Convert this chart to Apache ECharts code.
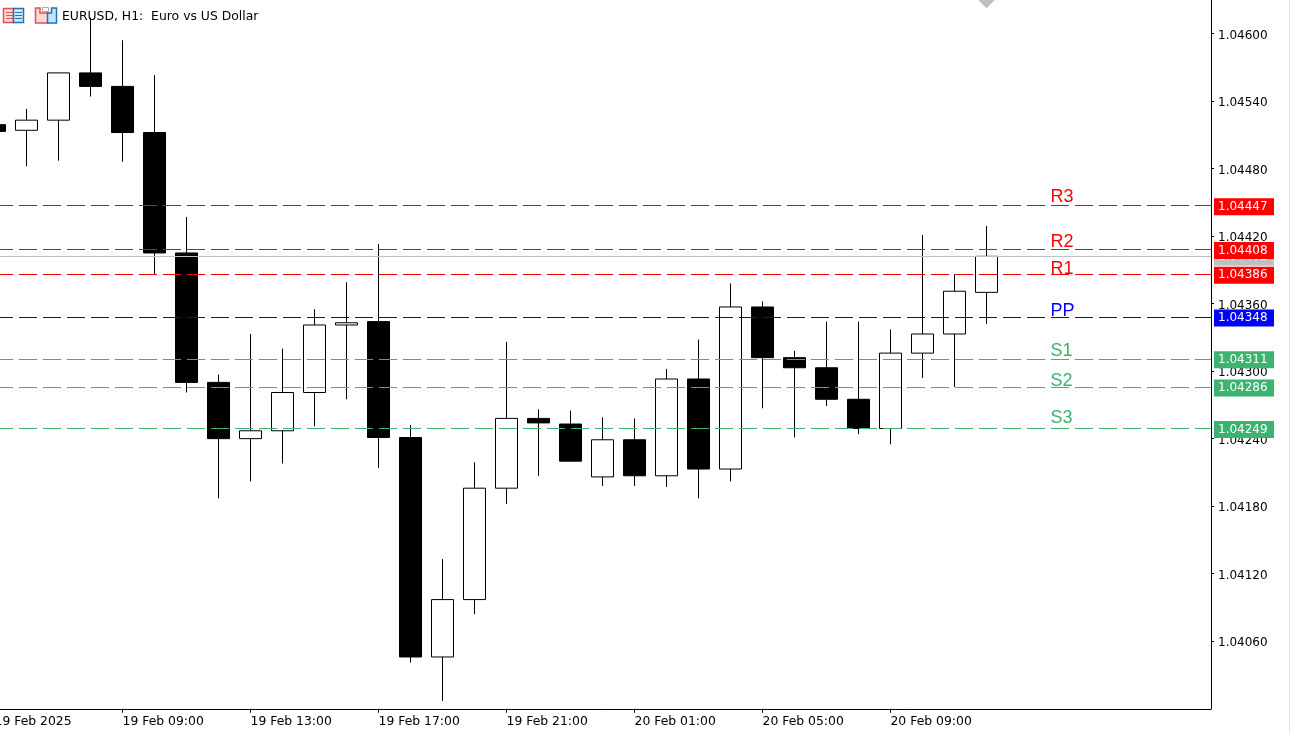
<!DOCTYPE html>
<html>
<head>
<meta charset="utf-8">
<title>EURUSD, H1</title>
<script src="https://cdn.jsdelivr.net/npm/echarts@6/dist/echarts.min.js"></script>
<style>
	html, body { margin: 0; padding: 0; background: #fff; }
	#main { width: 1290px; height: 733px; }
</style>
</head>
<body>
<div id="main"></div>
<script>
// hourly bars, 19 Feb 05:00 onwards
var opens = [1.04519, 1.04514, 1.04523, 1.04565, 1.04553, 1.04512, 1.04405, 1.04290, 1.04240, 1.04247, 1.04281, 1.04341, 1.04344, 1.04241, 1.04046, 1.04097, 1.04196, 1.04258, 1.04253, 1.04206, 1.04239, 1.04207, 1.04293, 1.04213, 1.04357, 1.04312, 1.04303, 1.04275, 1.04249, 1.04316, 1.04333, 1.04370];
var closes = [1.04513, 1.04523, 1.04565, 1.04553, 1.04512, 1.04405, 1.04290, 1.04240, 1.04247, 1.04281, 1.04341, 1.04343, 1.04241, 1.04046, 1.04097, 1.04196, 1.04258, 1.04254, 1.04220, 1.04239, 1.04207, 1.04293, 1.04213, 1.04357, 1.04312, 1.04303, 1.04275, 1.04249, 1.04316, 1.04333, 1.04371, 1.04402];
var lows = [1.04505, 1.04482, 1.04487, 1.04544, 1.04486, 1.04386, 1.04281, 1.04187, 1.04202, 1.04218, 1.04251, 1.04275, 1.04214, 1.04041, 1.04007, 1.04084, 1.04182, 1.04207, 1.04220, 1.04198, 1.04198, 1.04197, 1.04187, 1.04202, 1.04267, 1.04241, 1.04269, 1.04244, 1.04235, 1.04294, 1.04286, 1.04342];
var highs = [1.04526, 1.04533, 1.04565, 1.04614, 1.04594, 1.04563, 1.04437, 1.04297, 1.04333, 1.04320, 1.04355, 1.04379, 1.04413, 1.04252, 1.04133, 1.04219, 1.04326, 1.04266, 1.04265, 1.04259, 1.04258, 1.04302, 1.04328, 1.04378, 1.04362, 1.04318, 1.04344, 1.04344, 1.04337, 1.04421, 1.04386, 1.04429];

// axis ticks
var priceTicks = [1.04060, 1.04120, 1.04180, 1.04240, 1.04300, 1.04360, 1.04420, 1.04480, 1.04540, 1.04600];
var barTicks = [0, 4, 8, 12, 16, 20, 24, 28];
var barTickLabels = ['19 Feb 2025', '19 Feb 09:00', '19 Feb 13:00', '19 Feb 17:00', '19 Feb 21:00', '20 Feb 01:00', '20 Feb 05:00', '20 Feb 09:00'];

// pivot levels
var levelNames = ['R3', 'R2', 'R1', 'PP', 'S1', 'S2', 'S3'];
var levelValues = [1.04447, 1.04408, 1.04386, 1.04348, 1.04311, 1.04286, 1.04249];
var levelTextPrices = [1.04455, 1.04415, 1.04391, 1.04353, 1.04318, 1.04291, 1.04258];
var levelColors = ['#ff0000', '#ff0000', '#ff0000', '#0000ff', '#3cb371', '#3cb371', '#3cb371'];
var levelTextBar = 33;

var lastPrice = 1.04402;
var lastBar = 31;
var topPrice = 1.0463;

var tickFont = 'DejaVu Sans';

var candleData = [];
for (var i = 0; i < opens.length; i++) {
	candleData.push([i, opens[i], closes[i], lows[i], highs[i]]);
}

function tag(color) {
	return {
		show: true,
		position: 'end',
		distance: 3,
		offset: [0, 1],
		formatter: function(p) { return p.value.toFixed(5); },
		color: '#fff',
		fontFamily: tickFont,
		fontSize: 12,
		backgroundColor: color,
		width: 56,
		height: 17,
		lineHeight: 17,
		padding: [0, 0, 0, 4],
		align: 'left'
	};
}

var levelLines = [];
var levelTexts = [];
for (var j = 0; j < levelNames.length; j++) {
	levelLines.push({
		yAxis: levelValues[j],
		lineStyle: { color: levelColors[j] },
		label: tag(levelColors[j])
	});
	levelTexts.push({
		coord: [levelTextBar, levelTextPrices[j]],
		value: levelNames[j],
		label: { color: levelColors[j] }
	});
}

var main = echarts.init(document.getElementById('main'), null, { renderer: 'canvas' });
var options = {
	animation: false,
	backgroundColor: '#fff',
	title: {
		text: 'EURUSD, H1:  Euro vs US Dollar',
		left: 62,
		top: 11,
		padding: 0,
		textStyle: { fontFamily: tickFont, fontSize: 12.4, fontWeight: 'normal', color: '#000' }
	},
	grid: { left: -21.5, right: 79, top: -0.25, bottom: 24.25, outerBoundsMode: 'none' },
	xAxis: {
		type: 'value',
		min: -0.5,
		max: 38.016,
		splitLine: { show: false },
		axisLine: { show: true, onZero: false, lineStyle: { color: '#000', width: 1 } },
		axisTick: { show: true, length: 4, lineStyle: { color: '#000' }, customValues: barTicks },
		axisLabel: {
			customValues: barTicks,
			color: '#000',
			fontFamily: tickFont,
			fontSize: 12.4,
			margin: 7,
			align: 'left',
			hideOverlap: false,
			formatter: function(v) { return barTickLabels[barTicks.indexOf(v)]; }
		}
	},
	yAxis: {
		type: 'value',
		position: 'right',
		min: 1.04,
		max: topPrice,
		splitLine: { show: false },
		axisLine: { show: true, onZero: false, lineStyle: { color: '#000', width: 1 } },
		axisTick: { show: true, length: 3, lineStyle: { color: '#000' }, customValues: priceTicks },
		axisLabel: {
			customValues: priceTicks,
			margin: 7,
			formatter: function(v) { return '{p|' + v.toFixed(5) + '}'; },
			rich: {
				p: { color: '#000', fontFamily: tickFont, fontSize: 12, padding: [4, 0, 0, 0] }
			}
		}
	},
	series: [{
			// current price, stays behind the bars
			name: 'Bid',
			type: 'line',
			data: [[lastBar, lastPrice]],
			showSymbol: false,
			z: 1,
			markLine: {
				silent: true,
				symbol: 'none',
				animation: false,
				precision: 5,
				lineStyle: { color: '#c0c0c0', type: 'solid', width: 1 },
				data: [{ yAxis: lastPrice, label: tag('#c0c0c0') }]
			},
			markPoint: {
				silent: true,
				symbol: 'diamond',
				symbolSize: 17,
				itemStyle: { color: '#c0c0c0' },
				label: { show: false },
				data: [{ coord: [lastBar, topPrice] }]
			}
		},
		{
			name: 'EURUSD',
			type: 'candlestick',
			z: 2,
			barWidth: 22,
			encode: { x: 0, y: [1, 2, 3, 4] },
			itemStyle: {
				color: '#fff',
				color0: '#000',
				borderColor: '#000',
				borderColor0: '#000',
				borderWidth: 1
			},
			data: candleData
		},
		{
			name: 'Pivot',
			type: 'line',
			data: [[lastBar, lastPrice]],
			showSymbol: false,
			z: 3,
			markLine: {
				silent: true,
				symbol: 'none',
				animation: false,
				precision: 5,
				lineStyle: { type: [18, 6], dashOffset: 7.5, width: 1 },
				data: levelLines
			},
			markPoint: {
				silent: true,
				symbol: 'rect',
				symbolSize: 0,
				itemStyle: { color: 'transparent' },
				label: {
					show: true,
					position: 'right',
					distance: 0,
					fontFamily: 'Liberation Sans',
					fontSize: 18,
					formatter: '{c}'
				},
				data: levelTexts
			}
		}
	],
	graphic: [
		{ type: 'rect', shape: { x: 3.5, y: 8.5, width: 10, height: 14 }, style: { fill: '#fbd8d4', stroke: '#e2504a', lineWidth: 1.5 } },
		{ type: 'rect', shape: { x: 13.5, y: 8.5, width: 10, height: 14 }, style: { fill: '#d2e7f7', stroke: '#1f74b5', lineWidth: 1.5 } },
		{ type: 'line', shape: { x1: 6, y1: 12.5, x2: 13, y2: 12.5 }, style: { stroke: '#e2504a' } },
		{ type: 'line', shape: { x1: 6, y1: 15.5, x2: 13, y2: 15.5 }, style: { stroke: '#e2504a' } },
		{ type: 'line', shape: { x1: 6, y1: 18.5, x2: 13, y2: 18.5 }, style: { stroke: '#e2504a' } },
		{ type: 'line', shape: { x1: 15, y1: 12.5, x2: 22, y2: 12.5 }, style: { stroke: '#1f74b5' } },
		{ type: 'line', shape: { x1: 15, y1: 15.5, x2: 22, y2: 15.5 }, style: { stroke: '#1f74b5' } },
		{ type: 'line', shape: { x1: 15, y1: 18.5, x2: 22, y2: 18.5 }, style: { stroke: '#1f74b5' } },
		{ type: 'rect', shape: { x: 42.5, y: 7.5, width: 6, height: 4 }, style: { fill: '#fff', stroke: '#aaaaaa' } },
		{ type: 'polygon', shape: { points: [[35.5, 8], [40, 8], [40, 13], [48.5, 13], [48.5, 23], [35.5, 23]] }, style: { fill: '#fbd8d4', stroke: '#e2504a', lineWidth: 1.5 } },
		{ type: 'polygon', shape: { points: [[51.5, 8], [56.5, 8], [56.5, 23], [47.5, 23], [47.5, 13], [51.5, 13]] }, style: { fill: '#c9e3f7', stroke: '#1f74b5', lineWidth: 1.5 } },
		{ type: 'line', shape: { x1: 1289.5, y1: 0, x2: 1289.5, y2: 733 }, style: { stroke: '#e4e4e4' } }
	]
};
main.setOption(options);
</script>
</body>
</html>
